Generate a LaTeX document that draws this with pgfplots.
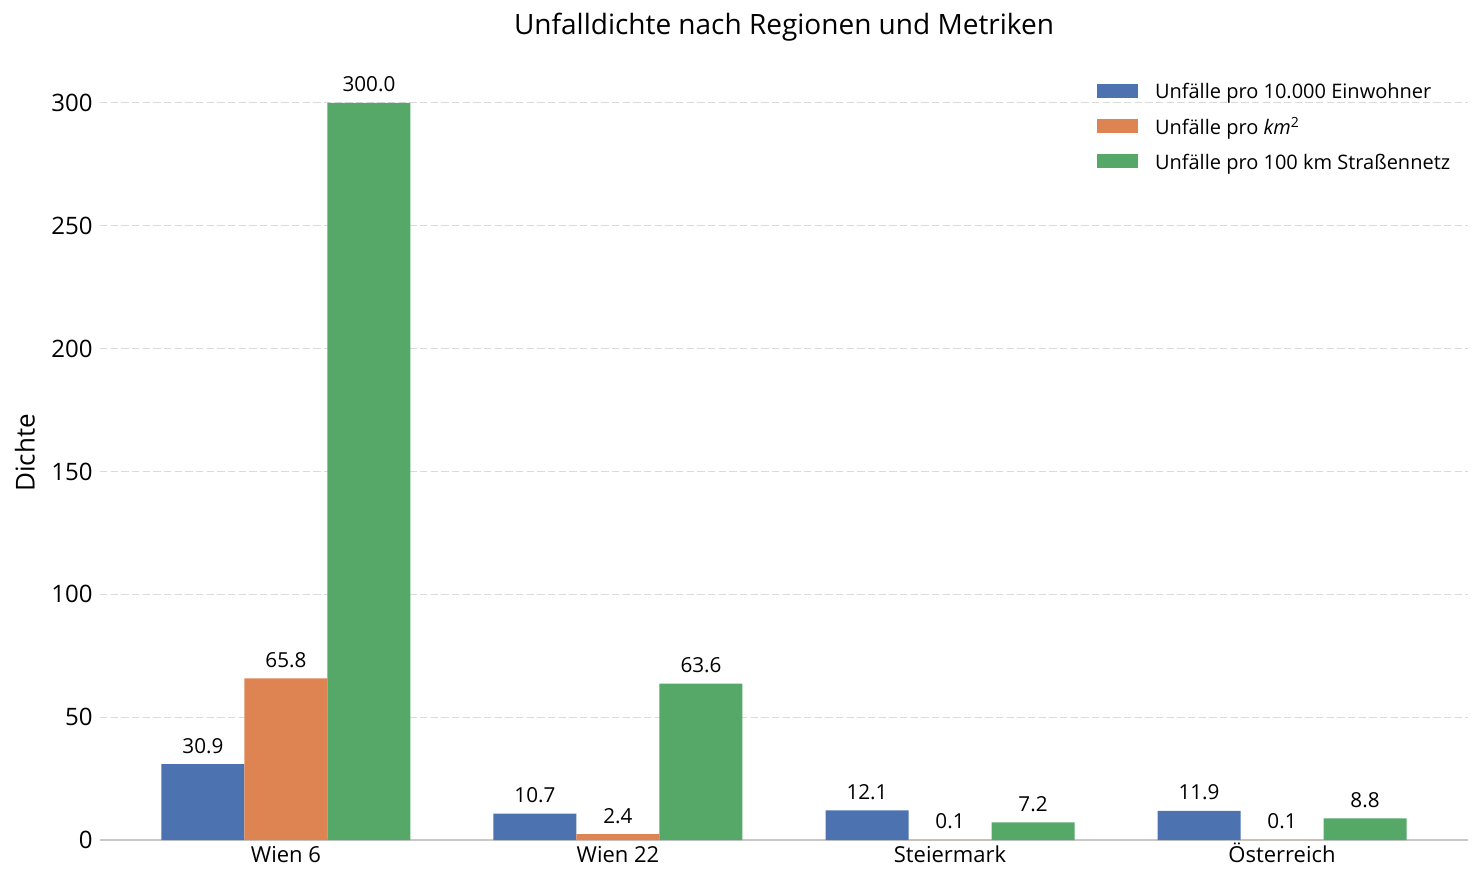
\documentclass[border=0pt]{standalone}
\usepackage{pgfplots}
\pgfplotsset{compat=1.18}
\usepackage{fontspec}
\setmainfont{Open Sans}
\definecolor{cblue}{HTML}{4C72B0}
\definecolor{corange}{HTML}{DD8452}
\definecolor{cgreen}{HTML}{55A868}
\definecolor{cgrid}{HTML}{DADADA}
\definecolor{caxis}{HTML}{C8C8C8}
\begin{document}
\begin{tikzpicture}
\useasboundingbox (0,0) rectangle (1112.25pt,663pt);
\begin{axis}[
  at={(75pt,33pt)}, anchor=south west,
  scale only axis, width=1026pt, height=580.5pt,
  xmin=-0.56, xmax=3.56, ymin=0, ymax=315,
  xtick={0,1,2,3},
  xticklabels={Wien 6,Wien 22,Steiermark,Österreich},
  ytick={0,50,100,150,200,250,300},
  axis line style={draw=none},
  tick style={draw=none},
  ymajorgrids,
  major grid style={cgrid, line width=0.75pt, dash pattern=on 5.5pt off 2.5pt},
  extra y ticks={0}, extra y tick labels={},
  extra y tick style={grid=major, major grid style={caxis, solid, line width=1.1pt}},
  /pgf/number format/assume math mode=true,
  yticklabel style={font=\fontsize{18}{20}\selectfont, xshift=-2pt},
  xticklabel style={font=\fontsize{16.5}{19}\selectfont, text height=12pt, text depth=3pt, yshift=-1pt},
  ylabel={Dichte},
  every axis y label/.style={at={(axis description cs:0,0.5)}, rotate=90, anchor=center, yshift=56.25pt, font=\fontsize{19.5}{22}\selectfont},
  title={Unfalldichte nach Regionen und Metriken},
  every axis title/.style={at={(axis description cs:0.5,1)}, anchor=base, yshift=23.25pt, font=\fontsize{21}{25}\selectfont},
  nodes near coords={\pgfmathprintnumber[fixed,fixed zerofill,precision=1,assume math mode=true]{\pgfplotspointmeta}},
  every node near coord/.append style={anchor=base, yshift=8.25pt, inner sep=0pt, font=\fontsize{15.5}{18}\selectfont, text=black},
  legend style={draw=none, fill=none, at={(0.7257,0.981)}, anchor=north west,
    font=\fontsize{15}{17}\selectfont, row sep=11.3pt,
    nodes={inner sep=0pt, text height=11.5pt, text depth=3.5pt},
    /tikz/every odd column/.append style={column sep=12.75pt}},
  legend cell align=left,
  legend image code/.code={\fill[#1] (0pt,-3.2pt) rectangle (30.75pt,7.3pt);},
]
\addplot[ybar, bar width=0.25, bar shift=0, fill=cblue, draw=none] coordinates {(-0.25,30.9) (0.75,10.7) (1.75,12.1) (2.75,11.9)};
\addlegendentry{Unfälle pro 10.000 Einwohner}
\addplot[ybar, bar width=0.25, bar shift=0, fill=corange, draw=none] coordinates {(0,65.8) (1,2.4) (2,0.1) (3,0.1)};
\addlegendentry{Unfälle pro \textit{km}\textsuperscript{2}}
\addplot[ybar, bar width=0.25, bar shift=0, fill=cgreen, draw=none] coordinates {(0.25,300.0) (1.25,63.6) (2.25,7.2) (3.25,8.8)};
\addlegendentry{Unfälle pro 100 km Straßennetz}
\end{axis}
\end{tikzpicture}
\end{document}
